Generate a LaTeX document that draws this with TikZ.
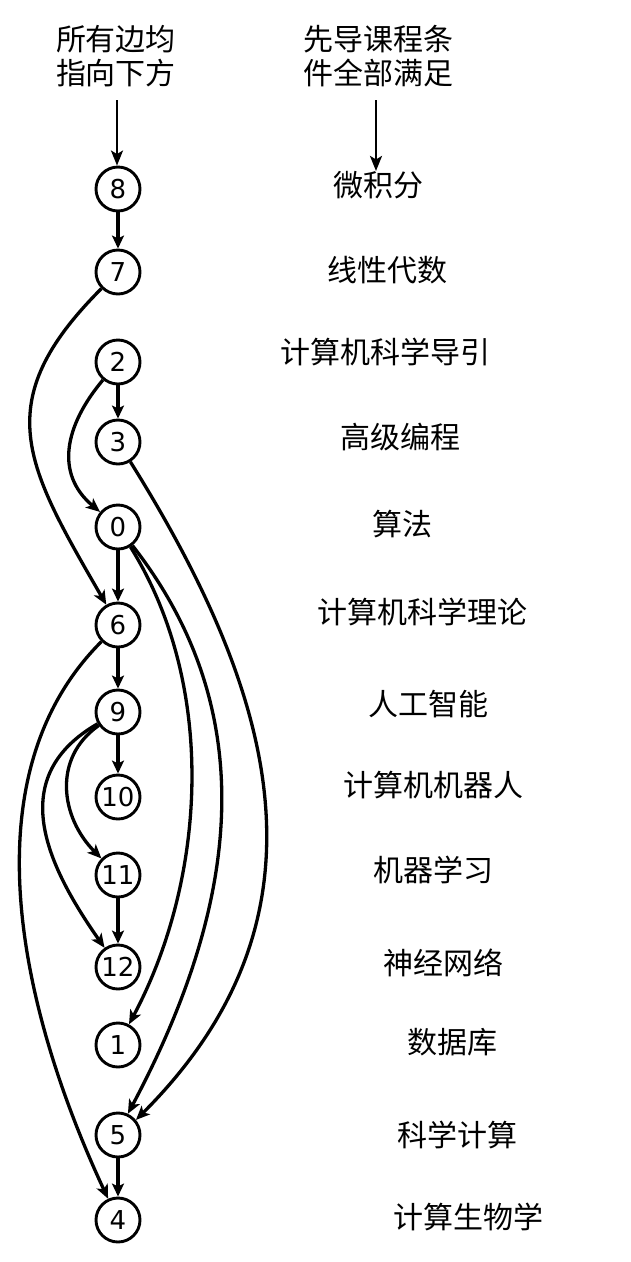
\documentclass[tikz,border=0pt]{standalone}
\usepackage{fontspec}
\setmainfont{DejaVu Sans}
\newfontfamily\cjk{Noto Sans CJK SC}
\usetikzlibrary{arrows.meta}
\begin{document}
\begin{tikzpicture}[x=1pt,y=1pt,
  vtx/.style={circle,draw,line width=2.9pt,minimum size=44pt,inner sep=0pt,font=\fontsize{26}{26}\selectfont},
  lab/.style={font=\cjk\fontsize{30}{34}\selectfont,inner sep=0pt,align=center},
  sedge/.style={line width=4.4pt,-{Stealth[length=13pt,width=12pt,inset=3pt]}},
  cedge/.style={line width=3.3pt,-{Stealth[length=14pt,width=12pt,inset=3.5pt]}},
  tedge/.style={line width=2.2pt,-{Stealth[length=15pt,width=12pt,inset=3.5pt]}}]
\useasboundingbox (0,0) rectangle (630,-1262);
% vertices
\node[vtx] (n8) at (118,-189) {8};
\node[vtx] (n7) at (118,-272) {7};
\node[vtx] (n2) at (118,-362) {2};
\node[vtx] (n3) at (118,-442) {3};
\node[vtx] (n0) at (118,-527) {0};
\node[vtx] (n6) at (118,-625) {6};
\node[vtx] (n9) at (118,-712) {9};
\node[vtx] (n10) at (118,-797) {10};
\node[vtx] (n11) at (118,-875) {11};
\node[vtx] (n12) at (118,-967) {12};
\node[vtx] (n1) at (118,-1045) {1};
\node[vtx] (n5) at (118,-1135) {5};
\node[vtx] (n4) at (118,-1220) {4};
% headings
\node[lab] (h1) at (116,-56) {所有边均\\指向下方};
\node[lab] (h2) at (378,-56) {先导课程条\\件全部满足};
\coordinate (a1) at (117,-100);
\coordinate (a2) at (376,-100);
\node[lab] (c8) at (378,-185) {微积分};
\node[lab] (c7) at (387,-270) {线性代数};
\node[lab] (c2) at (385,-352) {计算机科学导引};
\node[lab] (c3) at (400,-437) {高级编程};
\node[lab] (c0) at (402,-524) {算法};
\node[lab] (c6) at (422,-612) {计算机科学理论};
\node[lab] (c9) at (428,-704) {人工智能};
\node[lab] (c10) at (433,-785) {计算机机器人};
\node[lab] (c11) at (433,-870) {机器学习};
\node[lab] (c12) at (443,-963) {神经网络};
\node[lab] (c1) at (452,-1042) {数据库};
\node[lab] (c5) at (457,-1135) {科学计算};
\node[lab] (c4) at (468,-1217) {计算生物学};
% heading arrows
\draw[tedge] (a1) -- (a1 |- n8.north);
\draw[tedge] (a2) -- (a2 |- c8.north);
% straight edges
\draw[sedge] (n8) -- (n7);
\draw[sedge] (n2) -- (n3);
\draw[sedge] (n0) -- (n6);
\draw[sedge] (n6) -- (n9);
\draw[sedge] (n9) -- (n10);
\draw[sedge] (n11) -- (n12);
\draw[sedge] (n5) -- (n4);
% curved edges
\draw[cedge] (n7) to[out=-135,in=120,looseness=1.3] (n6);
\draw[cedge] (n2) to[out=-130,in=140,looseness=1.15] (n0);
\draw[cedge] (n3) to[out=-58,in=45,looseness=1.1] (n5.40);
\draw[cedge] (n0) to[out=-58,in=62,looseness=0.88] (n1);
\draw[cedge] (n0) to[out=-52,in=62,looseness=1.0] (n5.65);
\draw[cedge] (n6) to[out=-135,in=115,looseness=0.9] (n4);
\draw[cedge] (n9) to[out=-145,in=135,looseness=1.1] (n11);
\draw[cedge] (n9) to[out=-150,in=125,looseness=1.2] (n12);
\end{tikzpicture}
\end{document}
